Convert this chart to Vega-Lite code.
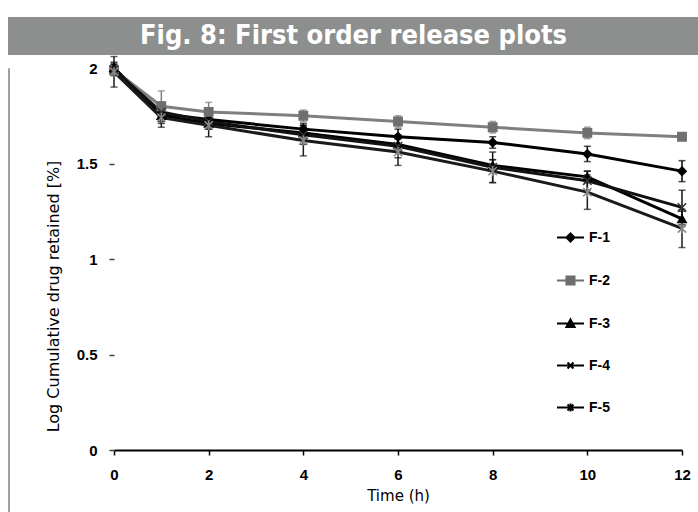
{
  "$schema": "https://vega.github.io/schema/vega-lite/v6.json",
  "padding": {"left": 7, "top": 17, "right": 0, "bottom": 0},
  "background": "white",
  "spacing": 0,
  "config": {"view": {"stroke": null}, "font": "Liberation Sans"},
  "datasets": {
    "release": [
      {"t": 0, "s": "F-1", "v": 2.00, "e": 0.03},
      {"t": 1, "s": "F-1", "v": 1.76, "e": 0.03},
      {"t": 2, "s": "F-1", "v": 1.73, "e": 0.03},
      {"t": 4, "s": "F-1", "v": 1.68, "e": 0.03},
      {"t": 6, "s": "F-1", "v": 1.64, "e": 0.04},
      {"t": 8, "s": "F-1", "v": 1.61, "e": 0.03},
      {"t": 10, "s": "F-1", "v": 1.55, "e": 0.04},
      {"t": 12, "s": "F-1", "v": 1.46, "e": 0.055},
      {"t": 0, "s": "F-2", "v": 1.99, "e": 0.02},
      {"t": 1, "s": "F-2", "v": 1.80, "e": 0.08},
      {"t": 2, "s": "F-2", "v": 1.77, "e": 0.05},
      {"t": 4, "s": "F-2", "v": 1.75, "e": 0.03},
      {"t": 6, "s": "F-2", "v": 1.72, "e": 0.03},
      {"t": 8, "s": "F-2", "v": 1.69, "e": 0.03},
      {"t": 10, "s": "F-2", "v": 1.66, "e": 0.03},
      {"t": 12, "s": "F-2", "v": 1.64, "e": 0.02},
      {"t": 0, "s": "F-3", "v": 2.00, "e": 0.02},
      {"t": 1, "s": "F-3", "v": 1.75, "e": 0.04},
      {"t": 2, "s": "F-3", "v": 1.71, "e": 0.03},
      {"t": 4, "s": "F-3", "v": 1.66, "e": 0.03},
      {"t": 6, "s": "F-3", "v": 1.60, "e": 0.03},
      {"t": 8, "s": "F-3", "v": 1.49, "e": 0.03},
      {"t": 10, "s": "F-3", "v": 1.43, "e": 0.03},
      {"t": 12, "s": "F-3", "v": 1.21, "e": 0.04},
      {"t": 0, "s": "F-4", "v": 1.99, "e": 0.03},
      {"t": 1, "s": "F-4", "v": 1.77, "e": 0.05},
      {"t": 2, "s": "F-4", "v": 1.72, "e": 0.04},
      {"t": 4, "s": "F-4", "v": 1.65, "e": 0.05},
      {"t": 6, "s": "F-4", "v": 1.59, "e": 0.06},
      {"t": 8, "s": "F-4", "v": 1.48, "e": 0.08},
      {"t": 10, "s": "F-4", "v": 1.41, "e": 0.05},
      {"t": 12, "s": "F-4", "v": 1.27, "e": 0.09},
      {"t": 0, "s": "F-5", "v": 1.98, "e": 0.08},
      {"t": 1, "s": "F-5", "v": 1.74, "e": 0.05},
      {"t": 2, "s": "F-5", "v": 1.70, "e": 0.06},
      {"t": 4, "s": "F-5", "v": 1.62, "e": 0.08},
      {"t": 6, "s": "F-5", "v": 1.56, "e": 0.07},
      {"t": 8, "s": "F-5", "v": 1.46, "e": 0.06},
      {"t": 10, "s": "F-5", "v": 1.35, "e": 0.09},
      {"t": 12, "s": "F-5", "v": 1.16, "e": 0.10}
    ]
  },
  "vconcat": [
    {
      "width": 691,
      "height": 38,
      "view": {"fill": "#8d8f8e", "stroke": null},
      "data": {"values": [{"label": "Fig. 8: First order release plots"}]},
      "mark": {"type": "text", "font": "'DejaVu Sans Condensed', 'Liberation Sans', sans-serif", "fontWeight": "bold", "fontSize": 27, "color": "white", "baseline": "middle", "align": "center"},
      "encoding": {"text": {"field": "label"}}
    },
    {
      "align": "each",
      "spacing": 35,
      "hconcat": [
        {
          "width": 1,
          "height": 444,
          "view": {"stroke": "#a0a0a0", "strokeWidth": 1},
          "data": {"values": [{"label": ""}]},
          "mark": {"type": "text"},
          "encoding": {"text": {"field": "label"}}
        },
        {
          "width": 568,
          "height": 382,
          "data": {"name": "release"},
          "resolve": {"scale": {"shape": "independent", "fill": "independent", "stroke": "independent"}},
          "layer": [
            {
              "mark": {"type": "line"},
              "encoding": {
                "x": {"field": "t", "type": "quantitative", "scale": {"domain": [0, 12], "nice": false},
                  "axis": {"values": [0, 2, 4, 6, 8, 10, 12], "title": "Time (h)", "grid": false, "domainColor": "black", "domainWidth": 2, "tickColor": "black", "tickSize": 5, "tickWidth": 1.5, "labelFont": "Liberation Sans", "labelFontWeight": "bold", "labelFontSize": 15, "labelColor": "black", "labelPadding": 12, "labelFlush": false, "titleFont": "DejaVu Sans", "titleFontSize": 15, "titleFontWeight": "normal", "titleColor": "black", "titlePadding": 6}},
                "y": {"field": "v", "type": "quantitative", "scale": {"domain": [0, 2], "nice": false},
                  "axis": {"values": [0, 0.5, 1, 1.5, 2], "format": "~g", "title": "Log Cumulative drug retained [%]", "grid": false, "domain": false, "tickColor": "#444", "tickSize": 5, "tickWidth": 1.5, "labelFont": "Liberation Sans", "labelFontWeight": "bold", "labelFontSize": 15, "labelColor": "black", "labelPadding": 12, "titleFont": "DejaVu Sans", "titleFontSize": 16, "titleFontWeight": "normal", "titleColor": "black", "titlePadding": 15, "titleY": 228}},
                "color": {"field": "s", "type": "nominal", "scale": {"domain": ["F-1", "F-2", "F-3", "F-4", "F-5"], "range": ["#000000", "#7f7f7f", "#000000", "#111111", "#1a1a1a"]}, "legend": null},
                "strokeWidth": {"field": "s", "type": "nominal", "scale": {"domain": ["F-1", "F-2", "F-3", "F-4", "F-5"], "range": [3, 3, 3.5, 2, 2]}, "legend": null}
              }
            },
            {
              "mark": {"type": "errorbar", "ticks": {"size": 7}, "thickness": 1.5},
              "encoding": {
                "x": {"field": "t", "type": "quantitative", "title": "Time (h)"},
                "y": {"field": "v", "type": "quantitative", "title": "Log Cumulative drug retained [%]"},
                "yError": {"field": "e"},
                "color": {"field": "s", "type": "nominal", "legend": null}
              }
            },
            {
              "mark": {"type": "point", "filled": true, "size": 70, "strokeWidth": 1.5, "opacity": 1},
              "encoding": {
                "x": {"field": "t", "type": "quantitative", "title": "Time (h)"},
                "y": {"field": "v", "type": "quantitative", "title": "Log Cumulative drug retained [%]"},
                "shape": {"field": "s", "type": "nominal", "scale": {"domain": ["F-1", "F-2", "F-3", "F-4", "F-5"], "range": ["M0,-1L1,0L0,1L-1,0Z", "square", "triangle-up", "M-1,-1L1,1M-1,1L1,-1", "M-1,-1L1,1M-1,1L1,-1M0,-1.2V1.2"]}, "legend": null},
                "fill": {"field": "s", "type": "nominal", "scale": {"domain": ["F-1", "F-2", "F-3", "F-4", "F-5"], "range": ["#000000", "#6f6f6f", "#000000", "#333333", "#888888"]}, "legend": null},
                "stroke": {"field": "s", "type": "nominal", "scale": {"domain": ["F-1", "F-2", "F-3", "F-4", "F-5"], "range": ["#000000", "#6f6f6f", "#000000", "#333333", "#888888"]}, "legend": null}
              }
            },
            {
              "mark": {"type": "point", "filled": true, "opacity": 0},
              "encoding": {
                "x": {"field": "t", "type": "quantitative", "title": "Time (h)"},
                "y": {"field": "v", "type": "quantitative", "title": "Log Cumulative drug retained [%]"},
                "fill": {"field": "s", "type": "nominal", "scale": {"domain": ["F-1", "F-2", "F-3", "F-4", "F-5"], "range": ["#000000", "#6f6f6f", "#000000", "#555555", "#888888"]},
                  "legend": {"orient": "none", "legendX": 442, "legendY": 155, "title": null}},
                "stroke": {"field": "s", "type": "nominal", "scale": {"domain": ["F-1", "F-2", "F-3", "F-4", "F-5"], "range": ["#000000", "#6f6f6f", "#000000", "#000000", "#000000"]},
                  "legend": {"orient": "none", "legendX": 442, "legendY": 155, "title": null}},
                "shape": {"field": "s", "type": "nominal",
                  "scale": {"domain": ["F-1", "F-2", "F-3", "F-4", "F-5"], "range": [
                    "M-1,0H1M0,-0.3L0.3,0L0,0.3L-0.3,0Z",
                    "M-1,0H1M-0.3,-0.3H0.3V0.3H-0.3Z",
                    "M-1,0H1M0,-0.3L0.3,0.25H-0.3Z",
                    "M-1,0H1M-0.22,-0.22L0.22,0.22M-0.22,0.22L0.22,-0.22",
                    "M-1,0H1M-0.22,-0.22L0.22,0.22M-0.22,0.22L0.22,-0.22M0,-0.3V0.3"]},
                  "legend": {"orient": "none", "legendX": 442, "legendY": 155, "title": null, "symbolSize": 729, "symbolStrokeWidth": 2, "symbolOpacity": 1, "rowPadding": 20, "labelFont": "Liberation Sans", "labelFontSize": 14, "labelFontWeight": "bold", "labelColor": "black", "labelOffset": 4, "padding": 0}
                }
              }
            }
          ]
        }
      ]
    }
  ]
}
